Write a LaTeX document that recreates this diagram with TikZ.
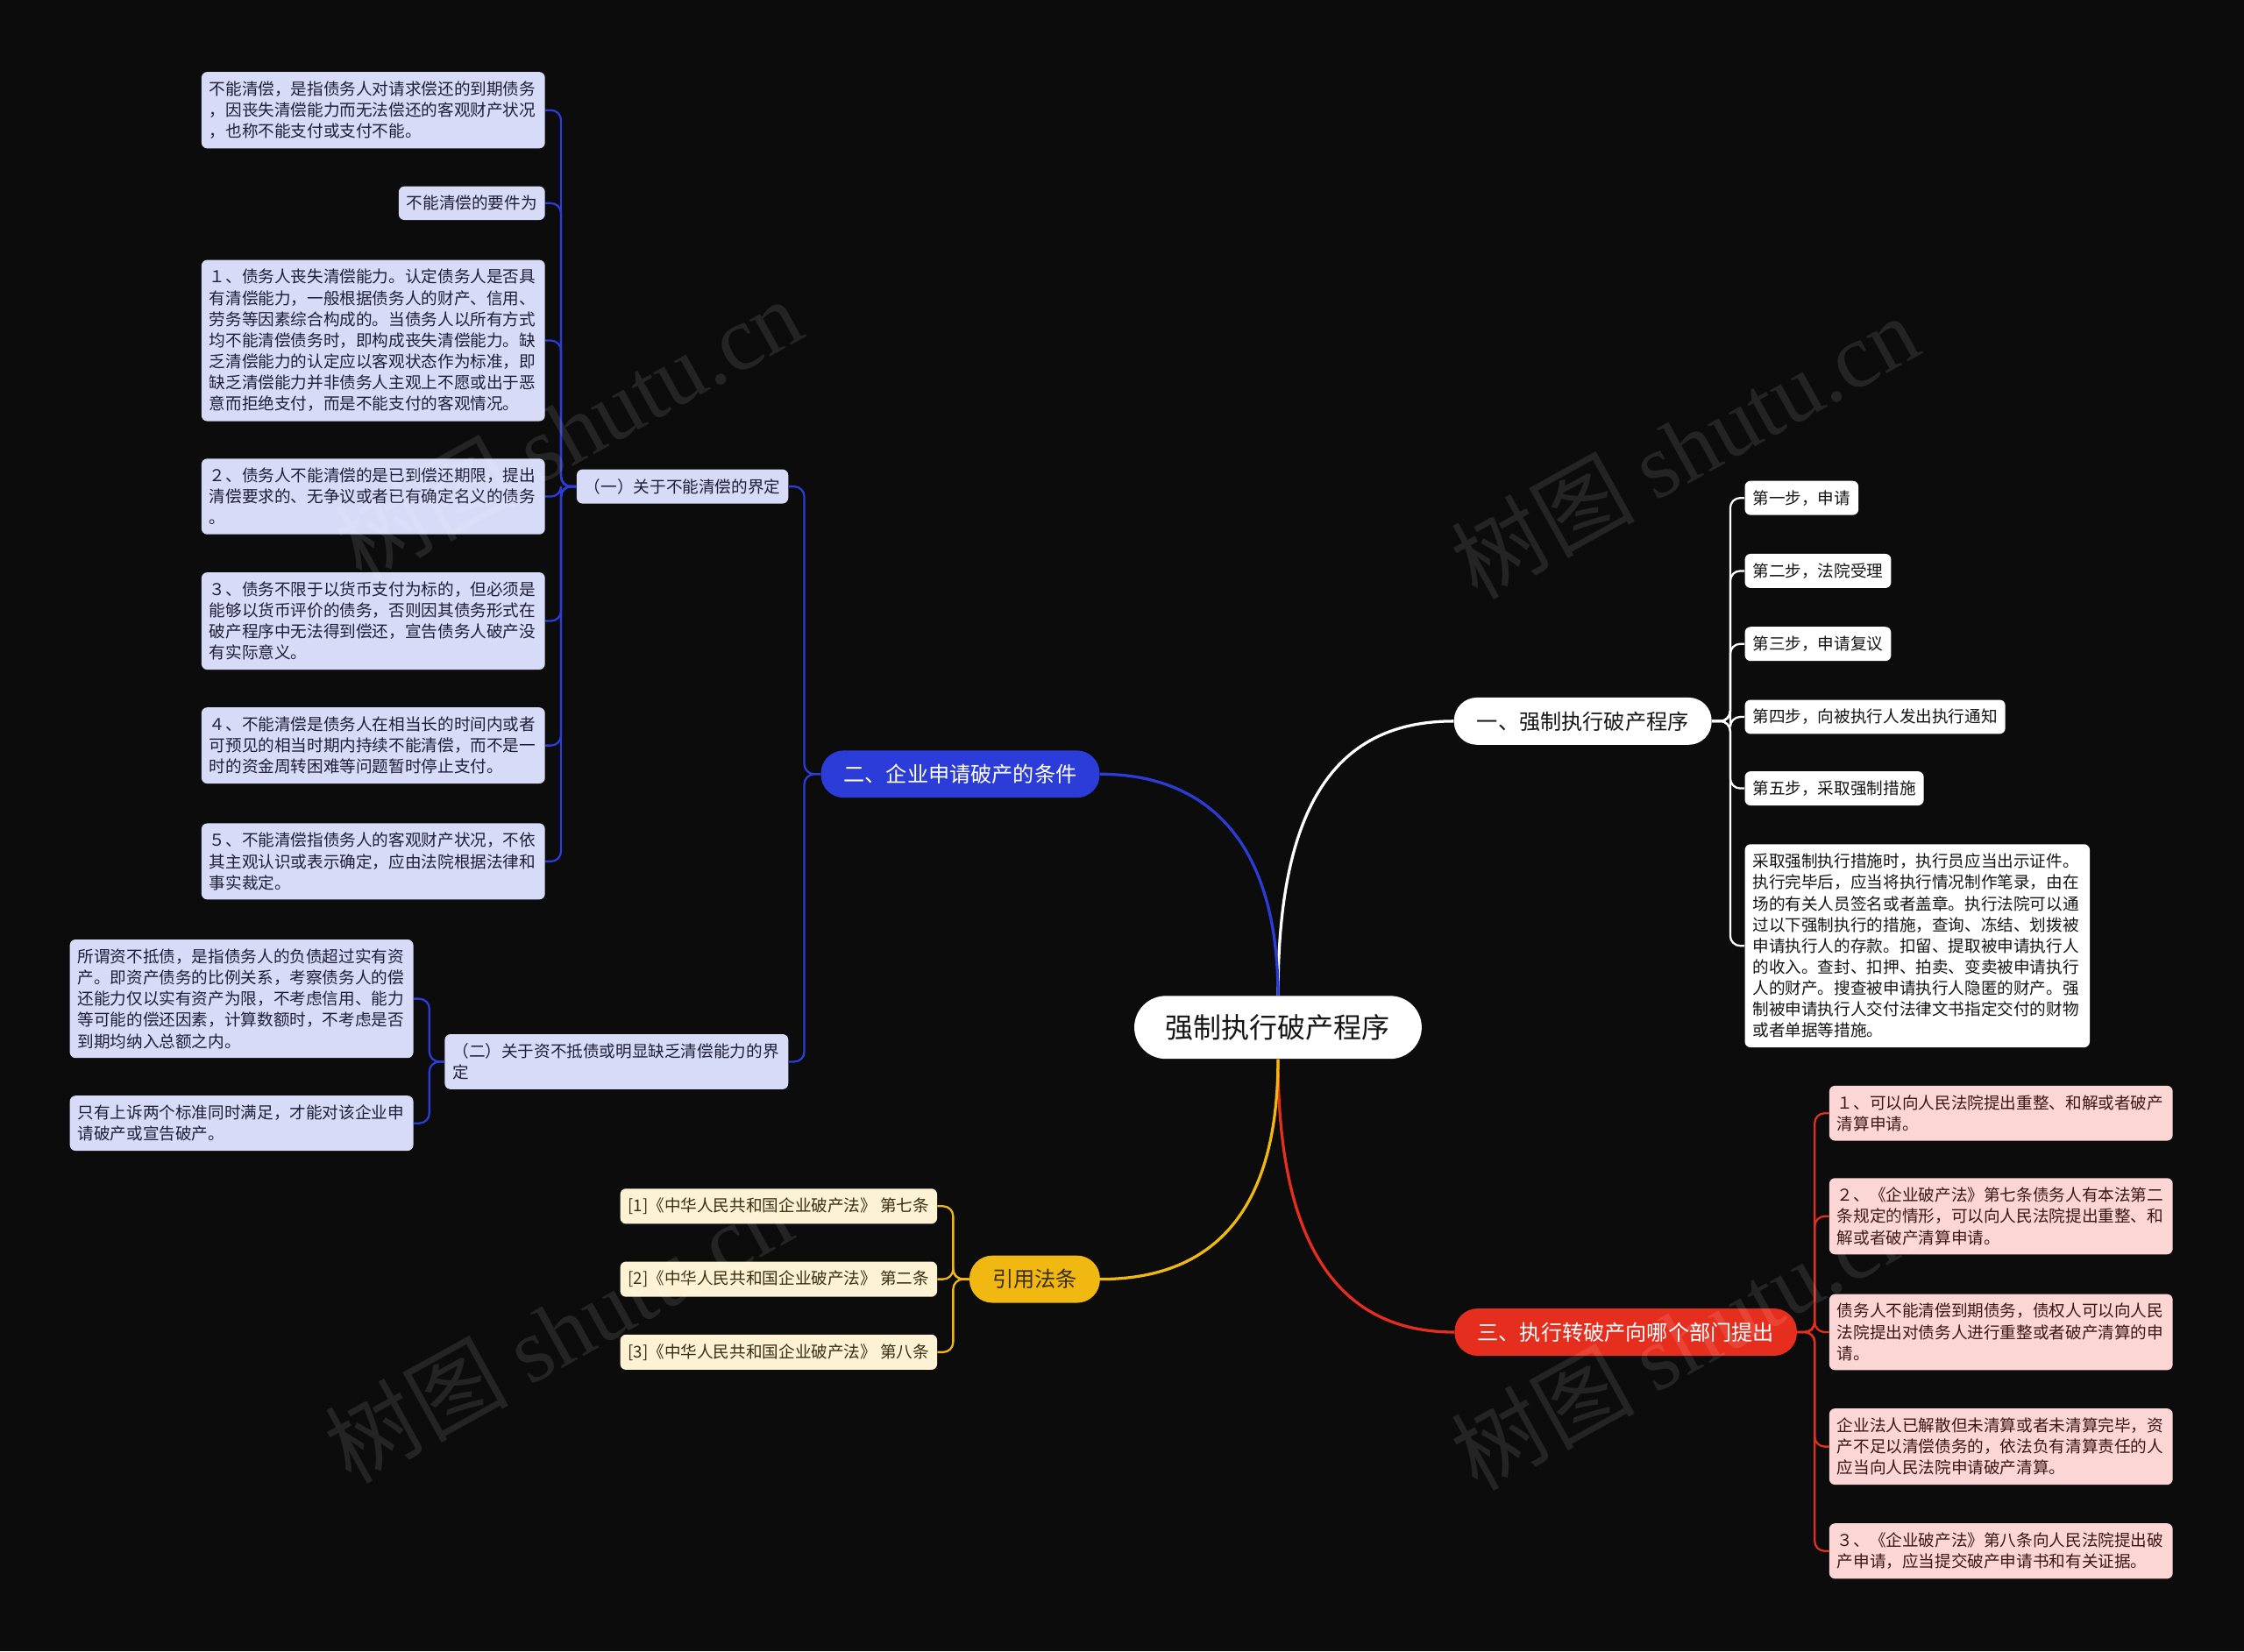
\documentclass[tikz,border=0pt]{standalone}
\usepackage{fontspec}
\setmainfont{Noto Sans CJK SC}
\newfontfamily\wmserif{Liberation Serif}
\definecolor{bgc}{HTML}{0C0C0C}
\definecolor{bluec}{HTML}{2B3CD8}
\definecolor{redc}{HTML}{E62E1E}
\definecolor{yelc}{HTML}{F1B811}
\definecolor{lavc}{HTML}{D8DBF8}
\definecolor{pinkc}{HTML}{FBD6D4}
\definecolor{creamc}{HTML}{FDF2D3}
\definecolor{lavt}{HTML}{1E1E38}
\definecolor{pinkt}{HTML}{3A1616}
\definecolor{creamt}{HTML}{3A2E0E}
\definecolor{darkt}{HTML}{151515}
\tikzset{
  leaf/.style={rounded corners=4pt, inner xsep=5.5pt, inner ysep=6.5pt,
    font=\fontsize{11.4}{14.8}\selectfont, align=left},
  lw/.style={leaf, text width=229pt},
  lav/.style={fill=lavc, text=lavt},
  pnk/.style={fill=pinkc, text=pinkt},
  crm/.style={fill=creamc, text=creamt},
  wht/.style={fill=white, text=darkt},
  branch/.style={rounded corners=16pt, inner xsep=16pt, inner ysep=0pt,
    minimum height=33pt, font=\fontsize{14.8}{16}\selectfont},
  mainline/.style={line width=2pt},
  subline/.style={line width=1.4pt, rounded corners=7pt},
  wmark/.style={text=white, opacity=0.1, rotate=29,
    font=\fontsize{64}{64}\selectfont}
}
\begin{document}
\begin{tikzpicture}[x=1pt,y=-1pt]
\useasboundingbox (0,0) rectangle (1568,1154);
\fill[bgc] (0,0) rectangle (1568,1154);

% root and branches
\node[fill=white, text=darkt, rounded corners=22pt, inner xsep=22pt, inner ysep=0pt,
  minimum height=44pt, font=\fontsize{19.6}{21}\selectfont] (root) at (893,718) {强制执行破产程序};
\node[branch, fill=white, text=darkt] (b1) at (1106,504) {一、强制执行破产程序};
\node[branch, fill=bluec, text=white] (b2) at (671,541) {二、企业申请破产的条件};
\node[branch, fill=redc, text=white] (b3) at (1136,931) {三、执行转破产向哪个部门提出};
\node[branch, fill=yelc, text=creamt] (b4) at (723,894) {引用法条};

\draw[mainline, white] (root.north) .. controls (893,560) and (935,504) .. (b1.west);
\draw[mainline, bluec] (root.north) .. controls (893,590) and (845,541) .. (b2.east);
\draw[mainline, redc] (root.south) .. controls (893,870) and (935,931) .. (b3.west);
\draw[mainline, yelc] (root.south) .. controls (893,850) and (845,894) .. (b4.east);

% branch 1 children
\node[leaf, wht, anchor=west] (s1) at (1219,348) {第一步，申请};
\node[leaf, wht, anchor=west] (s2) at (1219,399) {第二步，法院受理};
\node[leaf, wht, anchor=west] (s3) at (1219,450) {第三步，申请复议};
\node[leaf, wht, anchor=west] (s4) at (1219,501) {第四步，向被执行人发出执行通知};
\node[leaf, wht, anchor=west] (s5) at (1219,551) {第五步，采取强制措施};
\node[lw, wht, anchor=west, text width=230pt] (s6) at (1219,661) {采取强制执行措施时，执行员应当出示证件。\\执行完毕后，应当将执行情况制作笔录，由在\\场的有关人员签名或者盖章。执行法院可以通\\过以下强制执行的措施，查询、冻结、划拨被\\申请执行人的存款。扣留、提取被申请执行人\\的收入。查封、扣押、拍卖、变卖被申请执行\\人的财产。搜查被申请执行人隐匿的财产。强\\制被申请执行人交付法律文书指定交付的财物\\或者单据等措施。};
\foreach \n in {s1,s2,s3,s4,s5,s6}
  \draw[subline, white] (b1.east) -- (1209,504) |- (\n.west);

% branch 2 children
\node[leaf, lav, anchor=east] (c1) at (551,340) {（一）关于不能清偿的界定};
\node[lw, lav, anchor=east] (c2) at (551,742) {（二）关于资不抵债或明显缺乏清偿能力的界\\定};
\draw[subline, bluec] (b2.west) -- (562,541) |- (c1.east);
\draw[subline, bluec] (b2.west) -- (562,541) |- (c2.east);

\node[lw, lav, anchor=east] (a1) at (381,77) {不能清偿，是指债务人对请求偿还的到期债务\\，因丧失清偿能力而无法偿还的客观财产状况\\，也称不能支付或支付不能。};
\node[leaf, lav, anchor=east] (a2) at (381,142) {不能清偿的要件为};
\node[lw, lav, anchor=east] (a3) at (381,238) {１、债务人丧失清偿能力。认定债务人是否具\\有清偿能力，一般根据债务人的财产、信用、\\劳务等因素综合构成的。当债务人以所有方式\\均不能清偿债务时，即构成丧失清偿能力。缺\\乏清偿能力的认定应以客观状态作为标准，即\\缺乏清偿能力并非债务人主观上不愿或出于恶\\意而拒绝支付，而是不能支付的客观情况。};
\node[lw, lav, anchor=east] (a4) at (381,347) {２、债务人不能清偿的是已到偿还期限，提出\\清偿要求的、无争议或者已有确定名义的债务\\。};
\node[lw, lav, anchor=east] (a5) at (381,434) {３、债务不限于以货币支付为标的，但必须是\\能够以货币评价的债务，否则因其债务形式在\\破产程序中无法得到偿还，宣告债务人破产没\\有实际意义。};
\node[lw, lav, anchor=east] (a6) at (381,521) {４、不能清偿是债务人在相当长的时间内或者\\可预见的相当时期内持续不能清偿，而不是一\\时的资金周转困难等问题暂时停止支付。};
\node[lw, lav, anchor=east] (a7) at (381,602) {５、不能清偿指债务人的客观财产状况，不依\\其主观认识或表示确定，应由法院根据法律和\\事实裁定。};
\foreach \n in {a1,a2,a3,a4,a5,a6,a7}
  \draw[subline, bluec] (c1.west) -- (392,340) |- (\n.east);

\node[lw, lav, anchor=east] (d1) at (289,698) {所谓资不抵债，是指债务人的负债超过实有资\\产。即资产债务的比例关系，考察债务人的偿\\还能力仅以实有资产为限，不考虑信用、能力\\等可能的偿还因素，计算数额时，不考虑是否\\到期均纳入总额之内。};
\node[lw, lav, anchor=east] (d2) at (289,785) {只有上诉两个标准同时满足，才能对该企业申\\请破产或宣告破产。};
\foreach \n in {d1,d2}
  \draw[subline, bluec] (c2.west) -- (300,742) |- (\n.east);

% branch 3 children
\node[lw, pnk, anchor=west] (r1) at (1278,778) {１、可以向人民法院提出重整、和解或者破产\\清算申请。};
\node[lw, pnk, anchor=west] (r2) at (1278,850) {２、《企业破产法》第七条债务人有本法第二\\条规定的情形，可以向人民法院提出重整、和\\解或者破产清算申请。};
\node[lw, pnk, anchor=west] (r3) at (1278,931) {债务人不能清偿到期债务，债权人可以向人民\\法院提出对债务人进行重整或者破产清算的申\\请。};
\node[lw, pnk, anchor=west] (r4) at (1278,1011) {企业法人已解散但未清算或者未清算完毕，资\\产不足以清偿债务的，依法负有清算责任的人\\应当向人民法院申请破产清算。};
\node[lw, pnk, anchor=west] (r5) at (1278,1084) {３、《企业破产法》第八条向人民法院提出破\\产申请，应当提交破产申请书和有关证据。};
\foreach \n in {r1,r2,r3,r4,r5}
  \draw[subline, redc] (b3.east) -- (1268,931) |- (\n.west);

% branch 4 children
\node[leaf, crm, anchor=east] (y1) at (655,843) {[1]《中华人民共和国企业破产法》 第七条};
\node[leaf, crm, anchor=east] (y2) at (655,894) {[2]《中华人民共和国企业破产法》 第二条};
\node[leaf, crm, anchor=east] (y3) at (655,945) {[3]《中华人民共和国企业破产法》 第八条};
\foreach \n in {y1,y2,y3}
  \draw[subline, yelc] (b4.west) -- (666,894) |- (\n.east);

% watermarks
\node[wmark] (w1) at (397,300) {树图 {\wmserif shutu.cn}};
\node[wmark] (w2) at (1177,312) {树图 {\wmserif shutu.cn}};
\node[wmark] (w3) at (390,930) {树图 {\wmserif shutu.cn}};
\node[wmark] (w4) at (1177,935) {树图 {\wmserif shutu.cn}};
\end{tikzpicture}
\end{document}
